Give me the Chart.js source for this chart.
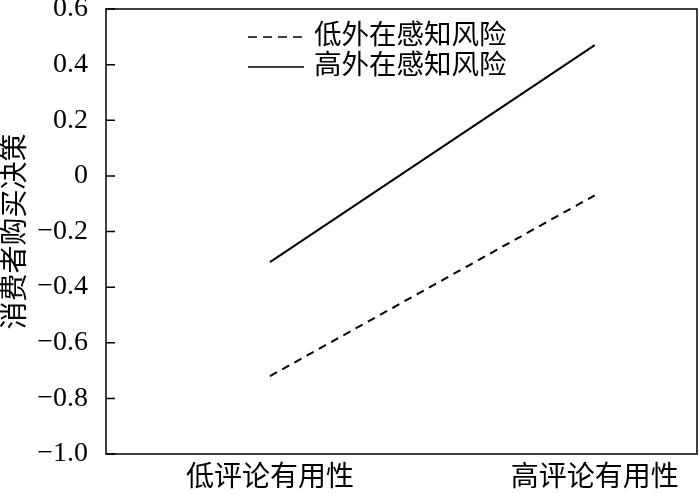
<!DOCTYPE html>
<html lang="zh">
<head>
  <meta charset="UTF-8">
  <title>消费者购买决策</title>
  <script src="https://cdn.jsdelivr.net/npm/chart.js"></script>
  <style>
    body { margin: 0; background: #fff; }
    #wrap { width: 700px; height: 494px; }
  </style>
</head>
<body>
  <div id="wrap"><canvas id="chart" width="700" height="494"></canvas></div>
  <script>
    // datos
    const categories = ['低评论有用性', '高评论有用性'];
    const xPos = [1, 2];
    const seriesNames = ['低外在感知风险', '高外在感知风险'];
    const lowRisk = [-0.72, -0.07];
    const highRisk = [-0.31, 0.47];
    const yTicks = [0.6, 0.4, 0.2, 0, -0.2, -0.4, -0.6, -0.8, -1.0];

    const serif = "'Liberation Serif', 'Times New Roman', serif";
    const cjk = "'Liberation Serif', 'Noto Sans CJK SC', serif";

    const fmt = v => {
      const r = Math.round(v * 10) / 10;
      if (r === 0) return '0';
      return (r < 0 ? '\u2212' : '') + Math.abs(r).toFixed(1);
    };

    // marco completo, marcas hacia dentro y leyenda vertical
    const frame = {
      id: 'frame',
      afterDraw(chart) {
        const { ctx, chartArea: a, scales } = chart;
        ctx.save();
        ctx.strokeStyle = '#000';
        ctx.lineWidth = 1.5;
        ctx.strokeRect(a.left, a.top, a.right - a.left, a.bottom - a.top);
        ctx.beginPath();
        yTicks.forEach(v => {
          const y = scales.y.getPixelForValue(v);
          ctx.moveTo(a.left, y);
          ctx.lineTo(a.left + 9, y);
        });
        ctx.stroke();

        // leyenda
        ctx.font = '27.5px ' + cjk;
        ctx.textBaseline = 'middle';
        ctx.fillStyle = '#000';
        chart.data.datasets.forEach((ds, i) => {
          const y = 37 + i * 30;
          ctx.beginPath();
          ctx.lineWidth = 1.5;
          ctx.setLineDash(ds.borderDash && ds.borderDash.length ? [9, 6] : []);
          ctx.moveTo(248, y);
          ctx.lineTo(304, y);
          ctx.stroke();
          ctx.setLineDash([]);
          ctx.fillText(ds.label, 314, y);
        });
        ctx.restore();
      }
    };

    new Chart(document.getElementById('chart'), {
      type: 'line',
      data: {
        datasets: [
          {
            label: seriesNames[0],
            data: xPos.map((x, i) => ({ x: x, y: lowRisk[i] })),
            borderColor: '#000',
            borderWidth: 2,
            borderDash: [8, 6],
            pointRadius: 0,
            fill: false
          },
          {
            label: seriesNames[1],
            data: xPos.map((x, i) => ({ x: x, y: highRisk[i] })),
            borderColor: '#000',
            borderWidth: 2,
            borderDash: [],
            pointRadius: 0,
            fill: false
          }
        ]
      },
      options: {
        responsive: false,
        animation: false,
        layout: { padding: { left: 0, top: 9, right: 3, bottom: 0 } },
        plugins: {
          legend: { display: false },
          tooltip: { enabled: false }
        },
        scales: {
          x: {
            type: 'linear',
            min: 0.495,
            max: 2.315,
            grid: { display: false },
            border: { display: false },
            afterBuildTicks: s => { s.ticks = xPos.map(v => ({ value: v })); },
            afterFit: s => { s.height = 40; },
            ticks: {
              color: '#000',
              padding: 0,
              font: { family: cjk, size: 28 },
              callback: v => categories[xPos.indexOf(v)] || ''
            }
          },
          y: {
            min: -1.0,
            max: 0.6,
            grid: { display: false },
            border: { display: false },
            afterBuildTicks: s => { s.ticks = yTicks.map(v => ({ value: v })); },
            afterFit: s => { s.width = 106; s.paddingTop = 0; s.paddingBottom = 0; },
            title: {
              display: true,
              text: '消费者购买决策',
              color: '#000',
              font: { family: cjk, size: 28 },
              padding: { top: 0, bottom: 2 }
            },
            ticks: {
              color: '#000',
              padding: 10,
              font: { family: serif, size: 28 },
              callback: v => fmt(v)
            }
          }
        }
      },
      plugins: [frame]
    });
  </script>
</body>
</html>
